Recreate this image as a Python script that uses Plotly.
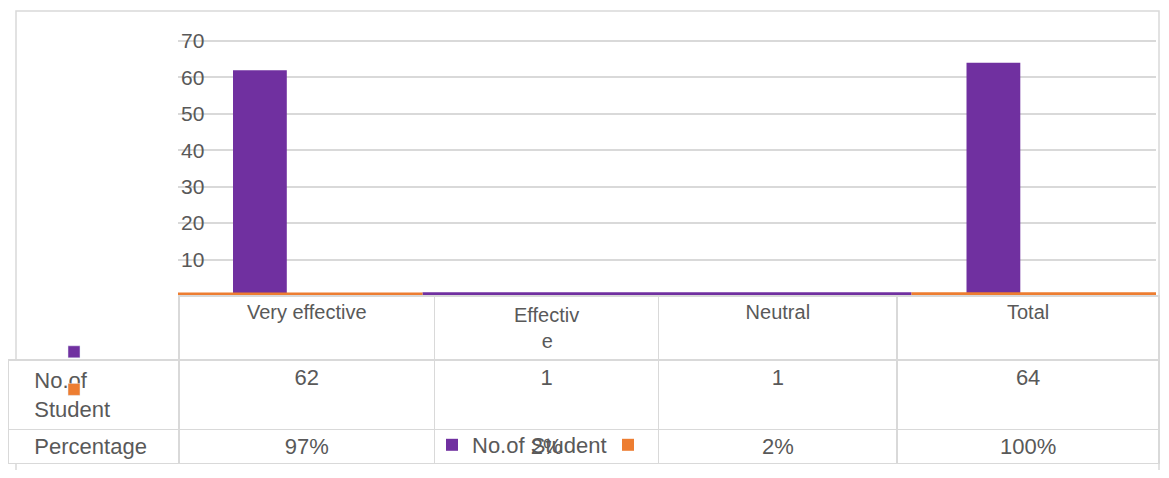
import plotly.graph_objects as go

# ---------------- data ----------------
categories = ["Very effective", "Effective", "Neutral", "Total"]
header_labels = ["Very effective", "Effectiv<br>e", "Neutral", "Total"]
row_labels = ["No.of<br>Student", "Percentage"]
student_counts = [62, 1, 1, 64]
percentages = [97, 2, 2, 100]
y_ticks = [0, 10, 20, 30, 40, 50, 60, 70]
legend_label = "No.of Student"

# ---------------- style ----------------
W, H = 1169, 478
OFF = 8  # page body margin
RIGHT = 1160  # visible right edge of the page
FW, FH = RIGHT - OFF, H - 2 * OFF
PURPLE = "#7030a0"
ORANGE = "#ed7d31"
GRID = "#d9d9d9"
TEXT = "#595959"
FONT = "Liberation Sans, Arial, sans-serif"


def fx(p):
    return min(1.0, max(0.0, (p - OFF) / FW))


def fy(p):
    return 1 - (p - OFF) / FH


def centre_lines(label, font_px):
    # centre every wrapped line under the first one (table text is left-aligned per line)
    lines = label.split("<br>")
    w0 = len(lines[0]) * 0.41 * font_px
    out = [lines[0]]
    for ln in lines[1:]:
        n = max(0, round((w0 - len(ln) * 0.556 * font_px) / 2 / (0.278 * font_px)))
        out.append("\u00a0" * n + ln)
    return "<br>".join(out)


purple_widths = [0.22, 1.0, 1.0, 0.22]
purple_offsets = [-0.275, -0.5, -0.5, -0.275]

fig = go.Figure()

fig.add_trace(go.Bar(
    x=categories, y=student_counts, width=purple_widths, offset=purple_offsets,
    marker=dict(color=PURPLE, line=dict(width=0)), name=legend_label,
    legend="legend", hoverinfo="skip"))
fig.add_trace(go.Bar(
    x=categories, y=[p / 100 for p in percentages], width=1.0, offset=-0.5,
    marker=dict(color=ORANGE, line=dict(width=0)), name=" ",
    legend="legend", hoverinfo="skip"))

# legend keys of the data table
fig.add_trace(go.Bar(x=[categories[0]], y=[None], marker=dict(color=PURPLE),
                     name=" ", legend="legend2", legendgroup="k1", hoverinfo="skip"))
fig.add_trace(go.Bar(x=[categories[0]], y=[None], marker=dict(color=ORANGE),
                     name=" ", legend="legend2", legendgroup="k2", hoverinfo="skip"))

HEAD_FS = 20
CELL_FS = 22
pad = "\u00a0" * 3
cell_cols = [[pad + r.replace("<br>", "<br>" + pad) for r in row_labels]]
for c, p in zip(student_counts, percentages):
    cell_cols.append([str(c), f"{p}%"])

fig.add_trace(go.Table(
    domain=dict(x=[fx(7), fx(1159)], y=[0, fy(296)]),
    columnwidth=[171, 256, 224, 239, 262],
    header=dict(
        values=[""] + [centre_lines(h, HEAD_FS) for h in header_labels], height=50,
        align="center",
        font=dict(size=HEAD_FS, color=TEXT, family=FONT),
        fill=dict(color=["rgba(0,0,0,0)"] + ["white"] * 4),
        line=dict(color=["rgba(0,0,0,0)"] + [GRID] * 4, width=1.5)),
    cells=dict(
        values=cell_cols, height=34,
        align=["left", "center", "center", "center", "center"],
        font=dict(size=CELL_FS, color=TEXT, family=FONT),
        fill=dict(color="white"),
        line=dict(color=GRID, width=1.5)),
))

# y axis: 0 at px 296, 70 at px 41
ppu = (296 - 41) / 70.0
y_lo, y_hi = -3, 74
fig.update_layout(
    width=FW, height=FH, autosize=False,
    margin=dict(l=0, r=0, t=0, b=0),
    paper_bgcolor="white", plot_bgcolor="rgba(0,0,0,0)",
    barmode="overlay",
    font=dict(family=FONT, color=TEXT),
    xaxis=dict(domain=[fx(178), fx(1156)], range=[-0.5, 3.5], showticklabels=False,
               showgrid=False, zeroline=False, showline=False, ticks=""),
    yaxis=dict(domain=[fy(296 - y_lo * ppu), fy(296 - y_hi * ppu)], range=[y_lo, y_hi],
               tickvals=y_ticks, ticklabelposition="inside", showgrid=True,
               gridcolor=GRID, gridwidth=1.5, zeroline=False, showline=False, ticks="",
               tickfont=dict(size=21, color=TEXT, family=FONT)),
    legend=dict(orientation="h", x=fx(432), xanchor="left", y=fy(445), yanchor="middle",
                font=dict(size=22, color=TEXT, family=FONT), bgcolor="rgba(0,0,0,0)",
                entrywidth=131, entrywidthmode="pixels", traceorder="normal"),
    legend2=dict(orientation="v", x=fx(54), xanchor="left", y=fy(331), yanchor="top",
                 font=dict(size=22, color=TEXT, family=FONT), bgcolor="rgba(0,0,0,0)",
                 tracegroupgap=6),
    shapes=[dict(type="rect", xref="paper", yref="paper", x0=fx(16), x1=fx(1159),
                 y0=-0.05, y1=fy(11), line=dict(color=GRID, width=1.5), layer="below")],
    showlegend=True,
)

fig.write_html("out.html")
